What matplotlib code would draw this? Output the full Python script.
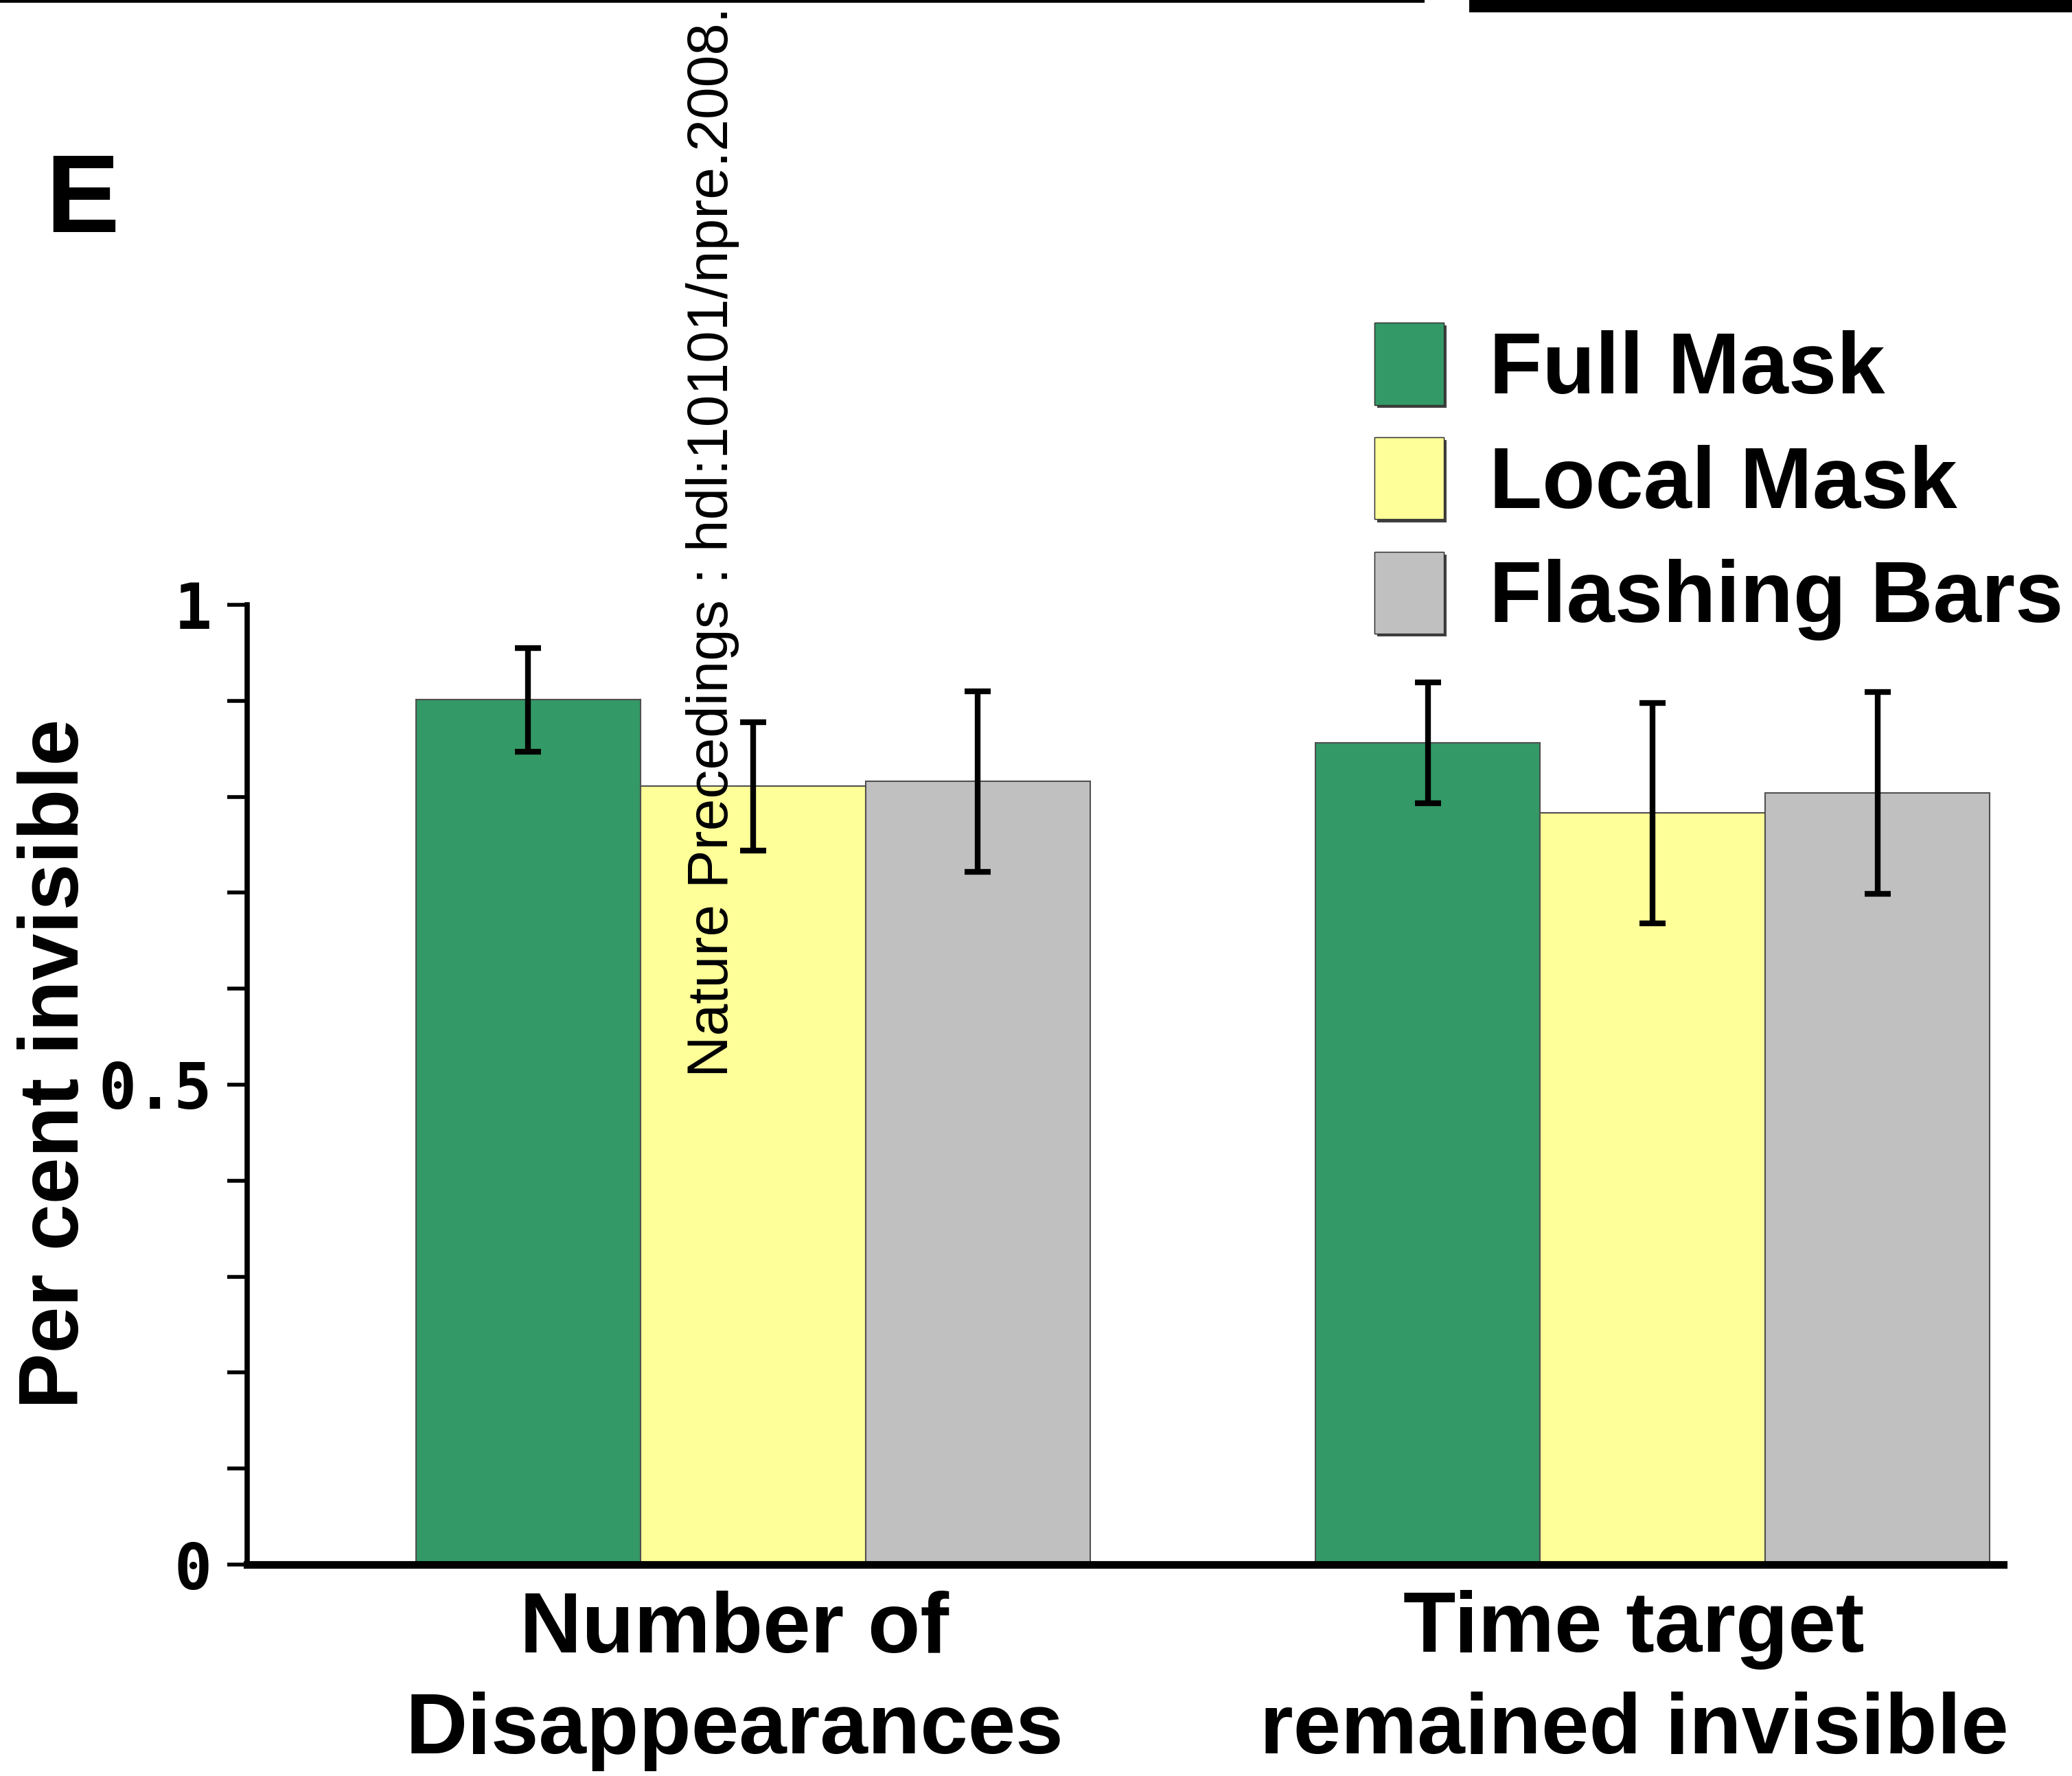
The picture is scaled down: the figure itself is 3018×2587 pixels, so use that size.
import matplotlib
matplotlib.use("Agg")
from matplotlib import pyplot as plt
from matplotlib.patches import Patch, Rectangle
from matplotlib import patheffects
from matplotlib.transforms import ScaledTranslation
import numpy as np

# data
groups = ["Number of\nDisappearances", "Time target\nremained invisible"]
conditions = ["Full Mask", "Local Mask", "Flashing Bars"]
means = {
    "Full Mask": [0.901, 0.856],
    "Local Mask": [0.811, 0.783],
    "Flashing Bars": [0.816, 0.804],
}
errors = {
    "Full Mask": [0.054, 0.063],
    "Local Mask": [0.067, 0.115],
    "Flashing Bars": [0.094, 0.105],
}
colors = {"Full Mask": "#339966", "Local Mask": "#FFFF99", "Flashing Bars": "#C0C0C0"}
ytick_major = [0, 0.5, 1]
ytick_labels = ["0", "0.5", "1"]

W, H = 3018, 2587
fig = plt.figure(figsize=(W / 100, H / 100), dpi=100)

ax = fig.add_axes([360 / W, (H - 2279) / H, 2558 / W, 1398 / H])

group_pos = np.array([0, 4])
for i, c in enumerate(conditions):
    ax.bar(group_pos + i, means[c], width=1.0, color=colors[c],
           edgecolor="#505050", linewidth=1.5, yerr=errors[c],
           error_kw=dict(ecolor="black", elinewidth=6, capsize=14, capthick=6),
           label=c, zorder=2)

ax.set_xlim(-1.25, 6.56)
ax.set_ylim(0, 1)

for s in ["top", "right"]:
    ax.spines[s].set_visible(False)
ax.spines["left"].set_linewidth(5.5)
ax.spines["bottom"].set_linewidth(8)
ax.spines["bottom"].set_zorder(3)

ax.set_yticks(ytick_major)
ax.set_yticklabels(ytick_labels)
ax.set_yticks(np.arange(0, 1.01, 0.1), minor=True)
ax.tick_params(axis="y", which="both", length=21, width=4, direction="out", pad=16)
for lab in ax.get_yticklabels():
    lab.set_fontfamily("DejaVu Sans Mono")
    lab.set_fontweight("bold")
    lab.set_fontsize(66)

ax.set_xticks(group_pos + 1)
ax.set_xticklabels(groups, fontsize=90, fontweight="bold",
                   fontfamily="Liberation Sans", linespacing=1.35)
ax.tick_params(axis="x", length=0, pad=27)
shift = ScaledTranslation(-0.27, 0, fig.dpi_scale_trans)
for lab in ax.get_xticklabels():
    lab.set_transform(lab.get_transform() + shift)

ax.set_ylabel("Per cent invisible", fontsize=88, fontweight="bold",
              fontfamily="Liberation Sans")
ax.yaxis.set_label_coords(-0.0865, 0.5215)

# legend with bevel-like handles
shadow = [patheffects.withSimplePatchShadow(offset=(3, -3), shadow_rgbFace="black", alpha=0.75),
          patheffects.Normal()]
handles = [Patch(facecolor=colors[c], edgecolor="#333333", linewidth=1,
                 path_effects=shadow) for c in conditions]
leg = fig.legend(handles, conditions, loc="upper left",
                 bbox_to_anchor=(2002 / W, 1 - 470 / H),
                 frameon=False, borderpad=0, borderaxespad=0,
                 handlelength=0.8, handleheight=1.08, handletextpad=0.52,
                 labelspacing=0.3,
                 prop=dict(family="Liberation Sans", weight="bold", size=91))

# panel letter
fig.text(66 / W, 1 - 338 / H, "E", fontsize=116, fontweight="bold",
         fontfamily="Liberation Sans", va="baseline", ha="left")

# repository watermark
fig.text(1060 / W, 1 - 1569 / H, "Nature Precedings : hdl:10101/npre.2008.",
         rotation=90, rotation_mode="anchor", ha="left", va="baseline",
         fontsize=60.5, fontfamily="Liberation Sans", color="black")

# edges of neighbouring panels at the top
fig.add_artist(Rectangle((0, 1 - 4 / H), 2075 / W, 4 / H, transform=fig.transFigure,
                         facecolor="black", edgecolor="none"))
fig.add_artist(Rectangle((2140 / W, 1 - 18 / H), 1 - 2140 / W, 18 / H,
                         transform=fig.transFigure, facecolor="black", edgecolor="none"))

fig.savefig("out.png", dpi=100, facecolor="white")
